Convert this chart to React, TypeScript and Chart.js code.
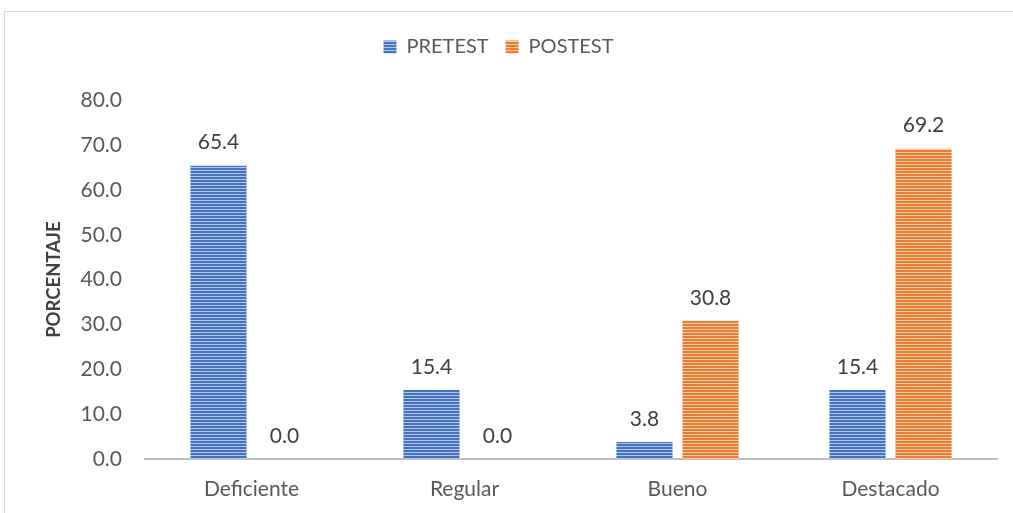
import React, { useEffect, useRef } from "react";
import { Chart, registerables } from "chart.js";
Chart.register(...registerables);

const categories = ["Deficiente", "Regular", "Bueno", "Destacado"];
const pretest = [65.4, 15.4, 3.8, 15.4];
const postest = [0.0, 0.0, 30.8, 69.2];
const seriesNames = ["PRETEST", "POSTEST"];

const FONT = 'Lato, "Open Sans", sans-serif';

function makePattern(dark: string, light: string) {
  const c = document.createElement("canvas");
  c.width = 4;
  c.height = 3;
  const ctx = c.getContext("2d")!;
  ctx.fillStyle = dark;
  ctx.fillRect(0, 0, 4, 2);
  ctx.fillStyle = light;
  ctx.fillRect(0, 2, 4, 1);
  return ctx.createPattern(c, "repeat")!;
}

const labelPlugin = {
  id: "barLabels",
  afterDatasetsDraw(chart: any) {
    const ctx = chart.ctx;
    ctx.save();
    ctx.font = "21px " + FONT;
    ctx.fillStyle = "#404040";
    ctx.textAlign = "center";
    ctx.textBaseline = "middle";
    chart.data.datasets.forEach((ds: any, i: number) => {
      const meta = chart.getDatasetMeta(i);
      meta.data.forEach((bar: any, j: number) => {
        const v = ds.data[j] as number;
        ctx.fillText(v.toFixed(1), bar.x, bar.y - 23);
      });
    });
    ctx.restore();
  },
};

export default function App() {
  const ref = useRef<HTMLCanvasElement>(null);
  useEffect(() => {
    document.body.style.margin = "0";
    const blue = makePattern("#4472C4", "#b4c7e7");
    const orange = makePattern("#ED7D31", "#f8cbad");
    const chart = new Chart(ref.current!, {
      type: "bar",
      data: {
        labels: categories,
        datasets: [
          { label: seriesNames[0], data: pretest, backgroundColor: blue as any, categoryPercentage: 0.62, barPercentage: 0.85 },
          { label: seriesNames[1], data: postest, backgroundColor: orange as any, categoryPercentage: 0.62, barPercentage: 0.85 },
        ],
      },
      options: {
        animation: false,
        responsive: false,
        layout: { padding: { top: 20, right: 16, bottom: 0, left: 0 } },
        plugins: {
          legend: {
            position: "top",
            labels: {
              boxWidth: 13,
              boxHeight: 13,
              color: "#595959",
              font: { family: FONT, size: 20 },
              padding: 17,
            },
          },
          subtitle: {
            display: true,
            text: " ",
            weight: 500,
            font: { size: 1 },
            padding: { top: 0, bottom: 32 },
          } as any,
          tooltip: { enabled: false },
        },
        scales: {
          x: {
            grid: { display: false },
            border: { color: "#bfbfbf", width: 2 },
            ticks: { color: "#595959", font: { family: FONT, size: 21 }, padding: 10 },
            afterFit: (s: any) => { s.height = 54; },
          },
          y: {
            min: 0,
            max: 80,
            grid: { display: false },
            border: { display: false },
            ticks: {
              stepSize: 10,
              color: "#595959",
              font: { family: FONT, size: 21 },
              padding: 15,
              callback: (v: any) => Number(v).toFixed(1),
            },
            title: {
              display: true,
              text: "PORCENTAJE",
              color: "#404040",
              font: { family: FONT, size: 18.5, weight: "bold" },
              padding: { top: 43, bottom: 0 },
            },
            afterFit: (s: any) => { s.width = 145; },
          },
        },
      },
      plugins: [labelPlugin],
    });
    return () => chart.destroy();
  }, []);
  return (
    <div style={{ position: "relative", width: 1013, height: 513, overflow: "hidden", background: "#fff" }}>
      <div style={{ position: "absolute", left: 4, top: 11, width: 1100, height: 600, border: "1px solid #d9d9d9" }} />
      <canvas ref={ref} width={1013} height={513} style={{ position: "absolute", left: 0, top: 0 }} />
    </div>
  );
}
